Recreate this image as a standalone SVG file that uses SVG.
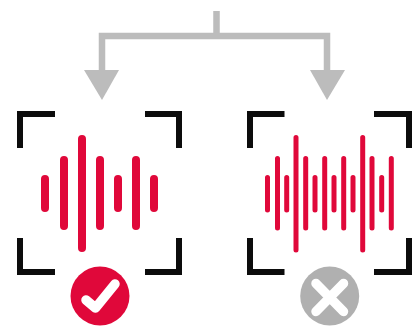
<svg xmlns="http://www.w3.org/2000/svg" width="417" height="327" viewBox="0 0 417 327">
<style>
.conn{fill:none;stroke:#bcbcbc;stroke-width:6.500}
.head{fill:#bcbcbc}
.br{fill:none;stroke:#0c0c0c;stroke-width:6;stroke-linecap:butt;stroke-linejoin:miter}
.bar{stroke:#e0083a;stroke-linecap:round;fill:none}
.thick{stroke-width:8}
.thin{stroke-width:5}
.mark{fill:none;stroke:#fff;stroke-width:9.500;stroke-linecap:round;stroke-linejoin:round}
</style>
<rect width="417" height="327" fill="#fff"/>
<g id="connectors">
<path class="conn" d="M216.500 11V36M102 72V36H327V72"/>
<polygon class="head" points="84,70 119,70 102,100"/>
<polygon class="head" points="310,70 345,70 327,100"/>
</g>
<g id="node-good">
<path class="br" d="M20 148V114H55M145 114H179V148M20 238V272H55M145 272H179V238"/>
<g class="bar thick">
<path d="M45 179V208M64 160V226M82 139V248M100 160V226M118 179V208M136 160V226M154 179V208"/>
</g>
<circle cx="100" cy="296" r="29.500" fill="#e0083a"/>
<path class="mark" d="M86 300L95.500 308L115 284"/>
</g>
<g id="node-bad">
<path class="br" d="M250 148V114H284.500M374 114H409V148M250 238V272H284.500M374 272H409V238"/>
<g class="bar thin">
<path d="M267.500 177.500V210M277.500 158.500V228M286.700 177.500V210M296 137.500V250M305.700 158.500V228M315 177.500V210M324.700 158.500V228M334 177.500V210M343.700 158.500V228M353 177.500V210M362.700 137.500V250M372 158.500V228M381.700 177.500V210M391.300 158.500V228"/>
</g>
<circle cx="329.700" cy="296" r="29.500" fill="#b0b0b0"/>
<path class="mark" d="M316 283.500L343.500 311.500M343.500 283.500L316 311.500"/>
</g>
</svg>
